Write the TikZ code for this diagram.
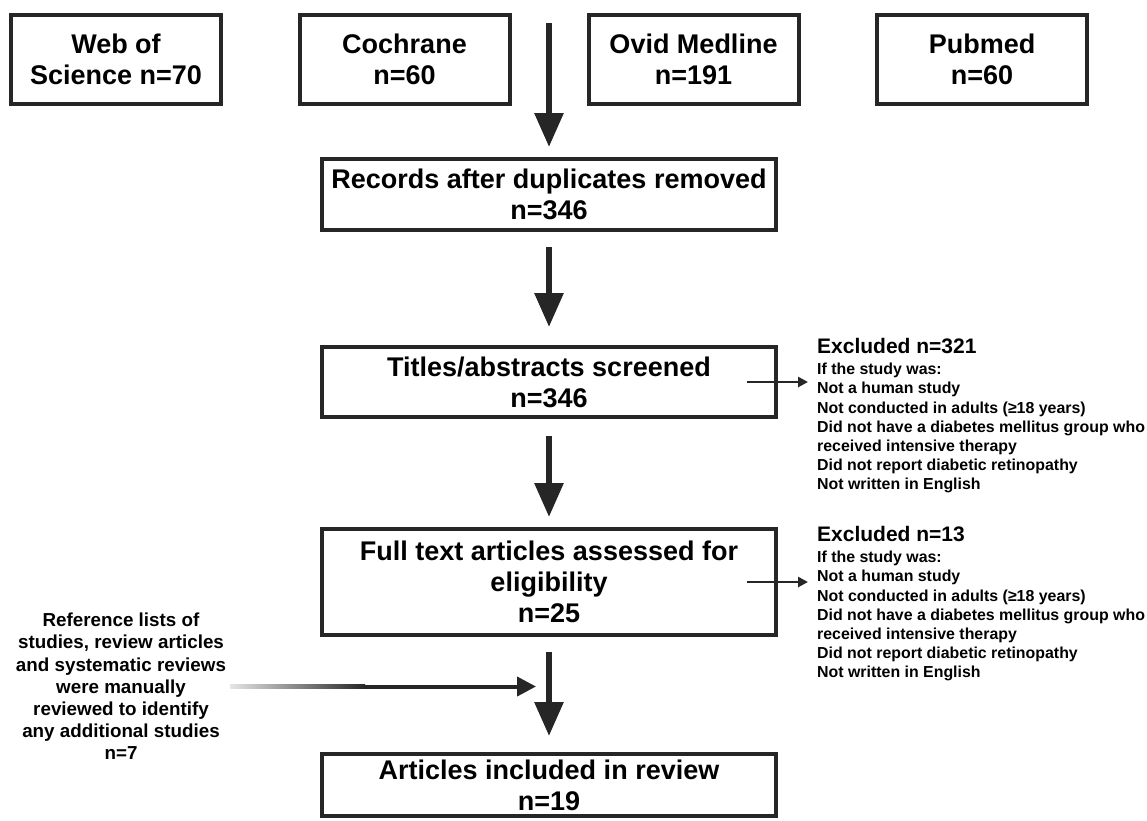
\documentclass[tikz,border=0pt]{standalone}
\usepackage{fontspec}
\setmainfont{Liberation Sans}
\usepackage{tikz}
\usetikzlibrary{arrows.meta, positioning}
\definecolor{linegray}{HTML}{262626}

\begin{document}
\begin{tikzpicture}[x=1pt, y=-1pt,
		box/.style={draw=linegray, line width=4pt, align=center, inner sep=0pt,
			font=\bfseries\fontsize{27}{31}\selectfont},
		srcbox/.style={box, minimum width=210pt, minimum height=89pt},
		flowbox/.style={box, minimum width=454pt},
		bigarrow/.style={draw=linegray, line width=6pt, -{Triangle[width=28pt, length=34pt]}},
		sidearrow/.style={draw=linegray, line width=2.5pt, -{Triangle[width=10pt, length=10pt]}},
		midarrow/.style={draw=linegray, line width=4pt, -{Triangle[width=19pt, length=19pt]}},
		exhead/.style={anchor=base west, inner sep=0pt, font=\bfseries\fontsize{21}{24}\selectfont},
		exline/.style={anchor=base west, inner sep=0pt, font=\bfseries\fontsize{15.9}{19}\selectfont}]
	\useasboundingbox (0,0) rectangle (1147,820);

	% Databases searched
	\node[srcbox] (wos) at (116,59.5) {Web of\\Science n=70};
	\node[srcbox] (cochrane) at (404.5,59.5) {Cochrane\\n=60};
	\node[srcbox] (ovid) at (693.5,59.5) {Ovid Medline\\n=191};
	\node[srcbox] (pubmed) at (982,59.5) {Pubmed\\n=60};
	\coordinate (dbs) at (549,23);

	% Screening steps
	\node[flowbox, minimum height=71pt] (records) at (549,194.5) {Records after duplicates removed\\n=346};
	\node[flowbox, minimum height=70pt] (titles) at (549,382) {Titles/abstracts screened\\n=346};
	\node[flowbox, minimum height=106pt] (fulltext) at (549,582) {Full text articles assessed for\\eligibility\\n=25};
	\node[flowbox, minimum height=62pt] (included) at (549,785) {Articles included in review\\n=19};

	\draw[bigarrow, shorten >=10pt] (dbs) -- (records.north);
	\draw[bigarrow, shorten <=15pt, shorten >=18pt] (records.south) -- (titles.north);
	\draw[bigarrow, shorten <=17pt, shorten >=10pt] (titles.south) -- (fulltext.north);
	\draw[bigarrow, shorten <=15pt, shorten >=16pt] (fulltext.south) -- (included.north);

	% Exclusion reasons
	\foreach \blk/\n/\y in {A/321/353.5, B/13/541.5} {
		\node[exhead] (ex\blk) at (817,\y) {Excluded n=\n};
		\foreach \txt [count=\i from 0] in {If the study was:, Not a human study,
				Not conducted in adults (≥18 years), Did not have a diabetes mellitus group who,
				received intensive therapy, Did not report diabetic retinopathy, Not written in English}
			\node[exline] (ex\blk-\i) at (817,\y+21.2+19.2*\i) {\txt};
	}
	\draw[sidearrow, shorten >=9pt] ([xshift=-31pt]titles.east) -- (titles.east -| exA.west);
	\draw[sidearrow, shorten >=9pt] ([xshift=-31pt]fulltext.east) -- (fulltext.east -| exB.west);

	% Hand searched references
	\node[align=center, inner sep=4pt, font=\bfseries\fontsize{18.8}{22.2}\selectfont] (reflist) at (121,686.5)
		{Reference lists of\\studies, review articles\\and systematic reviews\\were manually\\reviewed to identify\\any additional studies\\n=7};
	\coordinate (fadeend) at (365,686.5);
	\shade[left color=linegray!12, right color=linegray] ([yshift=2pt]reflist.east) rectangle ([yshift=-2pt]reflist.east -| fadeend);
	\draw[midarrow, shorten <=-1pt, shorten >=13pt] (reflist.east -| fadeend) -- (reflist.east -| fulltext.south);
\end{tikzpicture}
\end{document}
